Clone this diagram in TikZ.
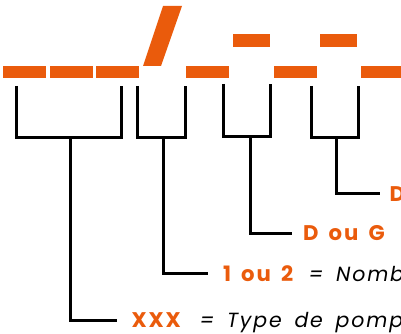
\documentclass[tikz,border=0pt]{standalone}
\usepackage{fontspec}
\setmainfont{Poppins}[LetterSpace=9, WordSpace=1.6]
\usepackage{tikz}
\usepackage{xcolor}
\definecolor{codeorange}{RGB}{234,91,12}

\begin{document}
\begin{tikzpicture}[x=1pt, y=-1pt, line width=3pt,
    key/.style={anchor=base west, inner sep=0pt, text=codeorange, font=\fontsize{21.2}{24}\selectfont\bfseries},
    meaning/.style={anchor=base west, inner sep=0pt, font=\fontsize{20.5}{24}\selectfont\itshape}]
    \useasboundingbox (0,0) rectangle (401,334);
    \fill[codeorange] (3,66) rectangle (46,77.7);
    \fill[codeorange] (50,66) rectangle (93,77.7);
    \fill[codeorange] (96,66) rectangle (139,77.7);
    \fill[codeorange] (143,66) -- (161,66) -- (182,6) -- (163,6) -- cycle;
    \fill[codeorange] (186,66) rectangle (229,77.7);
    \fill[codeorange] (233,34) rectangle (270,46.7);
    \fill[codeorange] (274,66) rectangle (317,77.7);
    \fill[codeorange] (320,34) rectangle (357,46.7);
    \fill[codeorange] (361,66) rectangle (404,77.7);
    \node[key] (xxx) at (130,327.5) {XXX};
    \node[meaning] (typ) at (198,327.5) {= Type de pompe};
    \node[key] (nbr) at (221.5,281.5) {1 ou 2};
    \node[meaning] (nom) at (307,281.5) {= Nombre};
    \node[key] (dg) at (301.5,240.5) {D ou G};
    \node[meaning] (eq) at (399,240.5) {=};
    \node[key] (d) at (388,201) {D};
    \draw (16.5,86) -- (16.5,137) -- (121.5,137) -- (121.5,86);
    \draw (137.5,86) -- (137.5,137) -- (185,137) -- (185,86);
    \draw (223.5,84) -- (223.5,136) -- (270.5,136) -- (270.5,84);
    \draw (311.5,86) -- (311.5,137) -- (358.5,137) -- (358.5,86);
    \draw[shorten >=13pt] (70.3,137) |- (xxx.west);
    \draw[shorten >=14pt] (163.3,137) |- (nbr.west);
    \draw[shorten >=10pt] (250,136) |- (dg.west);
    \draw[shorten >=8pt] (336.7,137) |- (d.west);
\end{tikzpicture}
\end{document}
